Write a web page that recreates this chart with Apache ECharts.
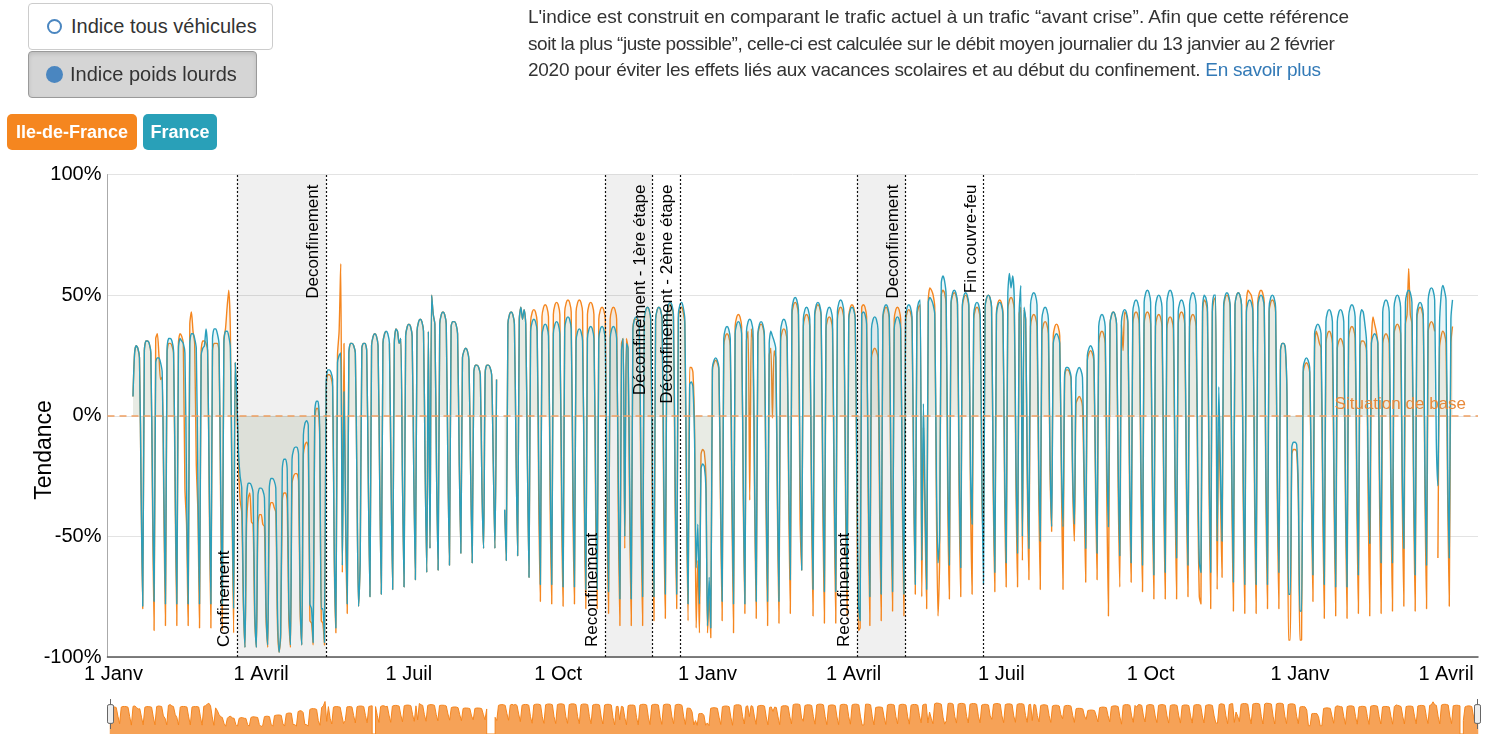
<!DOCTYPE html>
<html lang="fr">
<head>
<meta charset="utf-8">
<title>Indice poids lourds</title>
<script src="https://cdn.jsdelivr.net/npm/echarts@6/dist/echarts.min.js"></script>
<style>
  html, body { margin:0; padding:0; background:#fff; overflow:hidden; }
  body { width:1486px; height:734px; position:relative; font-family:"Liberation Sans", Arial, Helvetica, sans-serif; }
  #chart { position:absolute; left:0; top:0; width:1486px; height:734px; }
  .btn { position:absolute; box-sizing:border-box; border-radius:4px; font-size:20px; color:#333; display:flex; align-items:center; padding-left:18px; z-index:2; }
  .btn .dot { width:15px; height:15px; border-radius:50%; box-sizing:border-box; margin-right:9px; }
  #b1 { left:28px; top:3px; width:245px; height:47px; border:1px solid #ccc; background:#fff; }
  #b1 .dot { border:2px solid #4a86c0; }
  #b2 { left:28px; top:51px; width:229px; height:47px; border:1px solid #9a9a9a; background:#d5d5d5; box-shadow: inset 0 2px 4px rgba(0,0,0,0.12); }
  #b2 .dot { background:#4a86c0; width:17px; height:17px; margin-left:-1px; margin-right:7px; }
  .badge { position:absolute; top:114px; height:36px; border-radius:5px; color:#fff; font-weight:bold; font-size:18px; display:flex; align-items:center; justify-content:center; z-index:2; }
  #l1 { left:7px; width:130px; background:#f5861f; }
  #l2 { left:143px; width:74px; background:#29a0b8; }
  #info { position:absolute; left:528px; top:4px; font-size:19px; line-height:26.5px; color:#333; white-space:nowrap; z-index:2; }
  #info span { display:block; }
  #info .r1 { letter-spacing:-0.04px; }
  #info .r2 { letter-spacing:-0.46px; }
  #info .r3 { letter-spacing:-0.27px; }
  #info a { color:#337ab7; text-decoration:none; }
</style>
</head>
<body>
<div id="chart"></div>
<div class="btn" id="b1"><span class="dot"></span>Indice tous véhicules</div>
<div class="btn" id="b2"><span class="dot"></span>Indice poids lourds</div>
<div class="badge" id="l1">Ile-de-France</div>
<div class="badge" id="l2">France</div>
<div id="info"><span class="r1">L'indice est construit en comparant le trafic actuel à un trafic “avant crise”. Afin que cette référence</span><span class="r2">soit la plus “juste possible”, celle-ci est calculée sur le débit moyen journalier du 13 janvier au 2 février</span><span class="r3">2020 pour éviter les effets liés aux vacances scolaires et au début du confinement. <a href="#">En savoir plus</a></span></div>
<script>
// Daily index values (%), one row per week, Monday..Sunday, first week starting Monday 13 Jan 2020.
const franceWeeks = [
[8,26,29,28,24,-30,-79],[27,31,31,30,26,-28,-77],[22,24,24,22,18,-30,-78],[28,32,32,31,27,-28,-78],
[28,32,31,30,26,-28,-78],[30,34,34,32,28,-27,-78],[25,28,29,36,26,-28,-78],[32,36,36,34,30,-27,-78],
[30,35,35,33,28,-28,-80],[22,8,-15,-25,-30,-75,-96],[-35,-28,-28,-29,-32,-80,-96],[-33,-30,-30,-31,-34,-80,-95],
[-30,-26,-26,-27,-30,-80,-98],[-90,-22,-18,-18,-22,-78,-95],[-18,-14,-13,-13,-16,-76,-95],[-8,-3,-2,-4,-78,-80,-94],
[2,6,6,-5,-80,-80,-94],[14,19,19,18,15,-55,-88],[22,25,26,-62,10,-40,-78],[26,30,30,29,26,-30,-79],
[-60,28,30,30,27,-28,-75],[29,33,34,33,29,-27,-74],[30,34,35,34,30,-26,-72],[30,36,35,30,32,-25,-71],
[33,37,38,37,33,-24,-68],[35,39,40,39,35,-22,-65],[35,-55,50,42,38,-22,-64],[38,42,43,42,38,-20,-62],
[37,39,39,38,34,-18,-57],[24,27,28,27,23,-22,-61],[18,21,21,20,17,-30,-55],[18,21,21,20,17,-20,-55],
[15,null,null,null,null,-39,-60],[38,42,43,42,38,-15,-58],[40,45,40,44,38,-18,-67],[35,39,40,39,35,-22,-70],
[33,37,38,37,33,-22,-70],[34,38,39,38,34,-22,-71],[36,40,41,40,36,-22,-71],[31,35,36,35,31,-24,-72],
[32,36,37,36,32,-24,-72],[32,36,37,36,31,-26,-73],[32,36,37,36,32,-26,-76],[27,32,-50,30,28,-28,-76],
[36,40,41,40,36,-25,-75],[40,44,45,44,40,-24,-75],[40,44,45,44,40,-24,-74],[42,46,47,46,42,-24,-74],
[42,46,47,45,40,-26,-78],[13,14,12,-10,-63,-45,-78],[-22,-20,-21,-30,-87,-67,-88],[20,23,24,23,20,-30,-77],
[32,36,37,36,32,-28,-78],[34,38,39,38,34,-27,-78],[35,39,40,39,35,-27,-77],[34,38,39,38,34,-27,-77],
[30,35,33,31,28,-27,-77],[35,39,40,39,35,-24,-68],[44,48,49,48,44,-22,-64],[40,44,45,44,40,-24,-72],
[42,46,47,46,42,-24,-73],[40,44,45,44,40,-24,-73],[43,47,48,47,43,-23,-72],[40,44,45,44,40,-25,-78],
[-85,42,43,42,38,-25,-75],[36,40,41,40,36,-25,-74],[41,45,46,45,41,-24,-73],[36,40,41,40,36,-25,-74],
[41,45,46,45,41,-25,-70],[43,47,48,-60,5,-35,-72],[47,49,48,46,42,-25,-61],[-50,55,58,56,50,-22,-62],
[47,51,52,51,47,-22,-63],[46,50,51,50,46,-22,-45],[42,46,47,46,42,-24,-70],[45,49,50,49,45,-22,-65],
[42,46,47,46,42,-20,-61],[50,59,53,58,48,-18,-57],[43,54,-50,45,40,-20,-55],[46,50,51,50,46,-18,-52],
[40,44,45,44,40,-16,-46],[30,33,34,33,30,-18,-46],[17,20,20,19,16,-25,-45],[16,19,20,19,16,-22,-55],
[25,28,29,28,25,-20,-57],[37,41,42,41,37,-18,-46],[38,42,43,42,38,-20,-58],[39,43,44,43,39,-20,-61],
[43,47,48,47,43,-20,-62],[47,51,52,51,47,-20,-66],[45,49,50,49,45,-20,-65],[47,51,52,51,47,-20,-59],
[43,47,48,47,43,-20,-62],[46,50,51,50,46,-20,-61],[-65,45,50,49,45,-20,-65],[45,50,50,-52,12,-22,-52],
[46,50,51,50,46,-22,-69],[46,50,51,50,46,-22,-70],[43,47,48,47,43,-22,-70],[45,49,50,49,45,-22,-70],
[45,49,50,49,45,-22,-65],[27,30,30,28,10,-74,-74],[-13,-11,-11,-12,-30,-81,-81],[20,23,24,23,20,-24,-66],
[34,37,38,37,34,-24,-70],[39,43,44,43,39,-24,-71],[39,43,44,43,39,-24,-71],[41,45,46,45,41,-22,-66],
[40,44,43,38,31,-20,-53],[30,33,34,33,30,-22,-61],[43,47,48,47,43,-22,-61],[45,49,50,49,45,-22,-55],
[47,51,52,51,47,-22,-66],[42,46,47,46,42,-22,-62],[48,52,53,52,48,-10,-29],[38,50,54,52,48,-22,-59],
[40,48]
];
const idfWeeks = [
[8,26,29,28,24,-32,-80],[27,31,31,30,26,-35,-89],[32,34,25,15,16,-38,-87],[26,30,30,29,26,-36,-87],
[30,34,33,30,-30,-45,-87],[38,43,35,30,-20,-40,-88],[27,31,31,30,27,-36,-88],[27,30,30,30,27,-36,-89],
[32,36,45,52,35,-36,-90],[22,5,-20,-35,-40,-78,-96],[-45,-34,-32,-44,-45,-85,-96],[-45,-41,-41,-45,-46,-85,-96],
[-40,-36,-36,-38,-40,-86,-98],[-92,-35,-32,-32,-35,-84,-96],[-28,-25,-24,-24,-27,-82,-95],[-16,-12,-11,-13,-85,-86,-95],
[-2,3,3,-8,-85,-86,-95],[12,17,17,16,12,-60,-90],[25,35,63,-65,30,-45,-82],[26,30,30,29,26,-30,-79],
[-60,28,30,30,27,-28,-75],[29,33,34,33,29,-27,-74],[30,34,35,null,30,-26,-72],[30,36,35,30,32,-25,-71],
[33,37,38,37,33,-24,-68],[35,39,40,39,35,-22,-65],[35,-55,50,42,38,-22,-64],[38,42,43,42,38,-20,-62],
[37,39,39,38,34,-18,-57],[24,27,28,27,23,-22,-61],[18,21,21,20,17,-30,-55],[18,21,21,20,17,-20,-55],
[15,null,null,null,null,-39,-60],[38,42,43,42,38,-15,-58],[40,45,40,44,38,-18,-67],[39,43,44,43,39,-35,-77],
[41,45,46,45,41,-35,-78],[42,46,47,46,42,-35,-79],[43,47,48,47,43,-35,-78],[43,47,48,47,43,-35,-80],
[42,46,47,46,42,-35,-80],[40,44,45,44,40,-37,-82],[40,44,45,44,40,-40,-87],[30,32,-55,32,28,-40,-87],
[36,40,40,40,36,-40,-87],[40,44,45,44,40,-38,-85],[40,44,45,44,40,-38,-84],[41,45,46,45,41,-36,-80],
[40,44,45,43,38,-36,-85],[20,20,18,-5,-88,-60,-90],[-16,-14,-15,-25,-90,-75,-92],[19,22,23,22,19,-38,-85],
[29,33,34,33,29,-38,-90],[37,41,42,41,37,-35,-82],[31,35,-35,36,31,-36,-84],[33,37,38,37,33,-36,-87],
[25,28,-1,27,24,-36,-86],[31,35,36,35,31,-34,-82],[42,46,47,46,42,-43,-64],[37,41,42,41,37,-35,-83],
[41,45,46,45,41,-35,-86],[36,40,41,40,36,-36,-86],[40,44,45,44,40,-35,-83],[41,45,46,45,41,-36,-89],
[-88,45,46,45,41,-36,-87],[24,27,28,27,24,-38,-85],[40,44,45,44,40,-35,-81],[40,44,45,44,40,-36,-83],
[39,43,44,43,39,-29,-74],[41,45,46,-75,-5,-45,-80],[48,53,52,50,45,-38,-83],[-60,50,52,51,46,-35,-76],
[46,50,51,50,46,-33,-75],[45,49,50,49,45,-32,-74],[40,44,45,44,40,-30,-52],[45,49,50,49,45,-30,-73],
[43,47,48,47,43,-30,-71],[44,48,49,48,44,-28,-71],[42,45,-60,44,40,-28,-68],[37,41,42,41,37,-28,-72],
[34,38,39,38,34,-22,-48],[33,37,38,37,33,-26,-72],[16,19,19,18,15,-30,-52],[5,7,8,7,4,-30,-69],
[23,26,27,26,23,-28,-68],[30,34,35,34,30,-35,-83],[38,42,43,42,38,-30,-71],[38,27,43,42,38,-30,-69],
[38,42,43,42,38,-30,-73],[38,42,43,42,38,-30,-76],[37,41,42,41,37,-30,-76],[36,40,41,40,36,-30,-76],
[38,42,43,42,38,-30,-75],[37,41,42,41,37,-30,-75],[-78,43,48,47,43,-30,-80],[43,48,49,-72,-5,-32,-67],
[45,49,50,49,45,-32,-81],[46,50,51,50,46,-32,-82],[47,52,51,50,46,-32,-82],[47,51,52,51,47,-32,-80],
[43,47,48,47,43,-32,-80],[27,30,30,28,8,-93,-93],[-16,-14,-14,-15,-35,-93,-93],[18,21,22,21,18,-32,-77],
[28,35,33,30,28,-35,-84],[30,34,35,34,30,-35,-83],[28,31,32,31,28,-35,-84],[32,36,37,36,32,-34,-82],
[28,31,31,30,27,-33,-83],[30,41,38,35,30,-32,-82],[30,33,34,33,30,-32,-81],[34,37,38,37,34,-32,-79],
[38,42,61,42,38,-32,-81],[40,44,45,44,40,-32,-80],[35,38,39,38,35,null,-59],[28,33,35,34,30,-32,-79],
[30,37]
];
const firstDay = [2020, 0, 13];
const origin = [2020, 0, 1];

// Event markers
const eventDates = [[2020,2,17],[2020,4,11],[2020,9,30],[2020,10,28],[2020,11,15],[2021,3,3],[2021,4,3],[2021,5,20]];
const eventLabels = ['Confinement','Deconfinement','Reconfinement','Déconfinement - 1ère étape','Déconfinement - 2ème étape','Reconfinement','Deconfinement','Fin couvre-feu'];
const eventAtBottom = [true,false,true,false,false,true,false,false];
const shadedPeriods = [[0,1],[2,3],[5,6]];

// Axis ticks
const xTickDates = [[2020,0,1],[2020,3,1],[2020,6,1],[2020,9,1],[2021,0,1],[2021,3,1],[2021,6,1],[2021,9,1],[2022,0,1],[2022,3,1]];
const xTickLabels = ['1 Janv','1 Avril','1 Juil','1 Oct','1 Janv','1 Avril','1 Juil','1 Oct','1 Janv','1 Avril'];
const xRange = [[2019,11,28.3],[2022,3,20.7]];
const yTicks = [-100,-50,0,50,100];

// day number since 1 Jan 2020 (UTC arithmetic, no DST issues)
const dayNum = a => (Date.UTC(a[0], a[1], 1) + (a[2] - 1) * 86400000 - Date.UTC(origin[0], origin[1], origin[2])) / 86400000;
const startIdx = dayNum(firstDay);
function toSeries(weeks) {
  const out = [];
  let i = 0;
  weeks.forEach(w => w.forEach(v => {
    out.push([startIdx + i, v === null ? '-' : v]);
    i++;
  }));
  return out;
}
const idfData = toSeries(idfWeeks);
const franceData = toSeries(franceWeeks);
const tickDays = xTickDates.map(dayNum);

const FONT = '"Liberation Sans", Arial, Helvetica, sans-serif';
const chart = echarts.init(document.getElementById('chart'), null, {renderer: 'canvas'});
chart.setOption({
  animation: false,
  textStyle: {fontFamily: FONT},
  grid: {left: 107.5, right: 8, top: 174.5, bottom: 77, containLabel: false},
  xAxis: {
    type: 'value',
    min: dayNum(xRange[0]),
    max: dayNum(xRange[1]),
    axisLine: {onZero: false, lineStyle: {color: '#555', width: 1.5}},
    axisTick: {show: false},
    splitLine: {show: false},
    axisLabel: {
      customValues: tickDays,
      color: '#000', fontSize: 20, margin: 7, fontFamily: FONT,
      formatter: v => { const k = tickDays.indexOf(v); return k >= 0 ? xTickLabels[k] : ''; }
    }
  },
  yAxis: {
    type: 'value', min: yTicks[0], max: yTicks[yTicks.length - 1], interval: 50,
    axisLine: {show: true, onZero: false, lineStyle: {color: '#aaa'}},
    axisTick: {show: false},
    splitLine: {lineStyle: {color: '#e3e3e3'}},
    axisLabel: {formatter: '{value}%', color: '#000', fontSize: 20, margin: 6, padding: [8, 0, 0, 0], fontFamily: FONT}
  },
  graphic: [{
    type: 'text', x: 45, y: 450, rotation: Math.PI / 2,
    style: {text: 'Tendance', fontSize: 23, fill: '#000', align: 'center', verticalAlign: 'middle', fontFamily: FONT}
  }],
  dataZoom: [{
    type: 'slider', xAxisIndex: 0, start: 0, end: 100, filterMode: 'none',
    left: 107, right: 10, top: 694, height: 40,
    showDetail: false, brushSelect: false, moveHandleSize: 0,
    borderColor: 'transparent', backgroundColor: 'transparent', fillerColor: 'rgba(0,0,0,0)',
    handleSize: '75%',
    handleStyle: {color: '#eee', borderColor: '#666', borderWidth: 1},
    dataBackground: {lineStyle: {color: '#f5861f', width: 1, opacity: 1}, areaStyle: {color: '#f6a257', opacity: 1}},
    selectedDataBackground: {lineStyle: {color: '#f5861f', width: 1, opacity: 1}, areaStyle: {color: '#f6a257', opacity: 1}}
  }],
  series: [
    {
      name: 'Ile-de-France', type: 'line', data: idfData, symbol: 'none', showSymbol: false,
      smooth: 0.25, connectNulls: false, z: 3,
      lineStyle: {color: '#f5861f', width: 1.4}, itemStyle: {color: '#f5861f'},
      areaStyle: {color: 'rgba(236,150,60,0.16)', origin: 0}
    },
    {
      name: 'France', type: 'line', data: franceData, symbol: 'none', showSymbol: false,
      smooth: 0.25, connectNulls: false, z: 4,
      lineStyle: {color: '#2a9fbc', width: 1.4}, itemStyle: {color: '#2a9fbc'},
      areaStyle: {color: 'rgba(42,159,188,0.14)', origin: 0}
    },
    {
      name: 'events', type: 'line', data: [], z: 1, silent: true,
      markArea: {
        silent: true,
        itemStyle: {color: 'rgba(0,0,0,0.06)'},
        data: shadedPeriods.map(p => [{xAxis: dayNum(eventDates[p[0]])}, {xAxis: dayNum(eventDates[p[1]])}])
      },
      markLine: {
        silent: true, symbol: ['none', 'none'],
        data: eventDates.map((d, k) => ({
          xAxis: dayNum(d),
          lineStyle: {type: [2, 2], color: '#111', width: 1.2},
          label: {
            show: true, formatter: eventLabels[k],
            position: eventAtBottom[k] ? 'insideStartTop' : 'insideEndTop',
            color: '#000', fontSize: 17, fontFamily: FONT, distance: [10, 4]
          }
        })).concat([{
          yAxis: 0,
          lineStyle: {type: [7, 5], color: '#f0a062', width: 1.5},
          label: {show: true, formatter: 'Situation de base', position: 'insideEndTop', color: '#e8893a', fontSize: 17, fontFamily: FONT, distance: [12, 3]}
        }])
      }
    }
  ]
});
</script>
</body>
</html>
